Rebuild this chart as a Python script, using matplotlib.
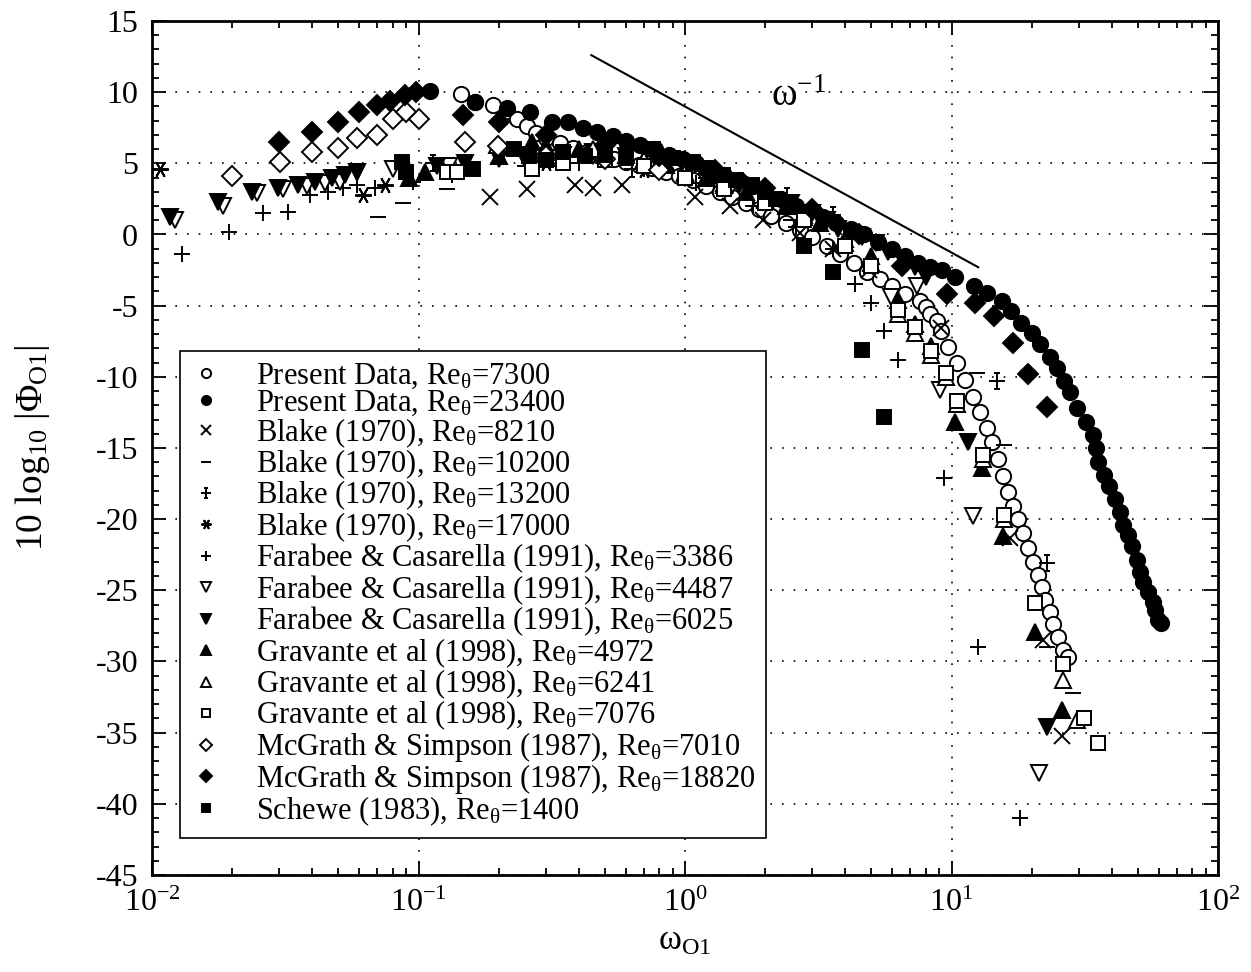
import numpy as np
import matplotlib
matplotlib.use("Agg")
import matplotlib.pyplot as plt
from matplotlib.path import Path
from matplotlib.ticker import MultipleLocator, LogLocator, NullFormatter

plt.rcParams['font.family'] = 'Liberation Serif'
plt.rcParams['mathtext.fontset'] = 'custom'
plt.rcParams['mathtext.rm'] = 'Liberation Serif'
plt.rcParams['mathtext.it'] = 'Liberation Serif:italic'
plt.rcParams['mathtext.bf'] = 'Liberation Serif:bold'
plt.rcParams['axes.unicode_minus'] = False

# ---- data ----
# Present Data, Re=7300 (open circles)
pd7300_x = [0.144, 0.163, 0.19, 0.215, 0.235, 0.255, 0.275, 0.30, 0.34, 0.38, 0.43, 0.48,
            0.54, 0.60, 0.67, 0.75, 0.85, 0.95, 1.07, 1.2, 1.35, 1.5, 1.7, 1.9, 2.1, 2.4,
            2.7, 3.0, 3.4, 3.8, 4.3, 4.8, 5.4, 6.0, 6.7, 7.6, 8.0, 8.3, 8.8, 9.1, 9.7,
            10.5, 11.2, 12.0, 12.8, 13.6, 14.2, 14.9, 15.6, 16.3, 17.0, 17.8, 18.5, 19.4,
            20.2, 21.1, 21.9, 22.5, 23.4, 24.0, 25.1, 26.2, 27.4]
pd7300_y = [9.9, 9.3, 9.1, 8.7, 8.1, 7.6, 7.1, 6.8, 6.4, 6.1, 5.8, 5.5,
            5.3, 5.1, 4.9, 4.7, 4.4, 4.1, 3.8, 3.4, 3.0, 2.6, 2.2, 1.8, 1.3, 0.8,
            0.3, -0.2, -0.8, -1.4, -2.0, -2.6, -3.1, -3.6, -4.2, -4.7, -5.1, -5.6, -6.1, -6.8, -7.9,
            -9.0, -10.2, -11.4, -12.5, -13.6, -14.6, -15.8, -17.0, -18.1, -19.1, -20.0, -21.0, -22.0,
            -23.0, -23.9, -24.8, -25.7, -26.5, -27.4, -28.3, -29.2, -29.7]

# Present Data, Re=23400 (filled circles)
pd23400_x = [0.110, 0.163, 0.215, 0.262, 0.317, 0.364, 0.415, 0.469, 0.535, 0.60, 0.68, 0.77,
             0.87, 0.98, 1.1, 1.25, 1.4, 1.6, 1.8, 2.0, 2.3, 2.6, 2.9, 3.3, 3.7, 4.2, 4.7,
             5.3, 6.0, 6.7, 7.5, 8.3, 9.2, 10.3, 12.1, 13.6, 15.5, 16.7, 18.3, 20.0, 21.4,
             23.4, 24.8, 26.5, 27.8, 29.6, 31.9, 34.1, 35.0, 35.6, 37.2, 39.0, 40.9, 42.7,
             43.9, 45.8, 47.5, 49.6, 51.0, 52.5, 54.5, 56.9, 58.0, 59.8, 61.0]
pd23400_y = [10.1, 9.3, 8.9, 8.6, 7.9, 7.9, 7.5, 7.2, 6.9, 6.6, 6.3, 6.0,
             5.6, 5.3, 5.0, 4.6, 4.2, 3.8, 3.4, 3.0, 2.5, 2.0, 1.6, 1.2, 0.8, 0.4, 0.0,
             -0.5, -1.0, -1.5, -2.0, -2.3, -2.5, -3.0, -3.6, -4.1, -4.7, -5.4, -6.2, -6.9, -7.7,
             -8.6, -9.4, -10.3, -11.1, -12.2, -13.2, -14.1, -15.0, -16.0, -16.9, -17.7, -18.6, -19.5,
             -20.4, -21.1, -21.9, -22.9, -23.7, -24.4, -25.1, -25.8, -26.4, -27.1, -27.3]

# Blake (1970)
b8210_x = [0.185, 0.256, 0.386, 0.45, 0.58, 1.09, 1.47, 1.96, 2.7, 3.6, 4.9, 9.1, 16.6, 22.0, 26.0]
b8210_y = [2.6, 3.2, 3.5, 3.3, 3.5, 2.6, 2.0, 1.05, 0.1, -1.0, -2.5, -6.6, -21.3, -28.5, -35.2]

b10200_x = [0.0705, 0.0874, 0.128, 0.3, 0.6, 1.2, 2.5, 5.0, 12.5, 15.8, 22.8, 28.6]
b10200_y = [1.2, 2.2, 3.2, 5.0, 5.3, 3.5, 1.0, -2.5, -9.7, -14.8, -29.0, -32.2]

b13200_x = [0.113, 0.317, 0.63, 1.2, 2.41, 3.6, 14.8, 22.8]
b13200_y = [5.0, 5.4, 4.6, 4.0, 2.7, 1.4, -10.3, -23.1]

b17000_x = [0.0107, 0.062, 0.075, 0.3, 0.7]
b17000_y = [4.6, 2.8, 3.5, 5.0, 4.5]

# Farabee & Casarella (1991)
f3386_x = [0.0130, 0.0195, 0.026, 0.0324, 0.039, 0.0457, 0.052, 0.059, 0.0687, 0.095, 0.134,
           0.25, 0.4, 0.7, 1.1, 1.8, 2.6, 3.6, 4.35, 4.99, 5.6, 6.3, 9.4, 12.6, 18.0]
f3386_y = [-1.4, 0.2, 1.5, 1.6, 2.8, 3.0, 3.3, 3.5, 3.3, 3.7, 4.2,
           4.8, 5.0, 4.6, 3.6, 2.0, 0.5, -1.0, -3.5, -4.8, -6.8, -8.8, -17.1, -29.0, -41.0]

f4487_x = [0.0122, 0.0185, 0.0247, 0.031, 0.038, 0.0446, 0.0506, 0.0588, 0.08, 0.13, 0.25,
           0.45, 0.8, 1.5, 3.0, 5.95, 7.4, 9.05, 12.0, 21.3]
f4487_y = [1.05, 2.0, 2.95, 3.2, 3.4, 3.6, 3.7, 4.4, 4.6, 4.8, 5.3,
           5.5, 4.8, 3.4, 1.5, -4.4, -3.6, -10.9, -19.8, -37.8]

f6025_x = [0.0117, 0.0177, 0.0237, 0.0297, 0.0353, 0.041, 0.0473, 0.053, 0.059, 0.117, 0.15,
           0.2, 0.25, 0.35, 0.45, 0.6, 0.8, 1.0, 1.3, 1.6, 2.0, 2.5, 3.0, 3.4, 3.75, 4.2, 4.6,
           5.2, 5.8, 6.5, 7.3, 8.0, 11.5, 22.8]
f6025_y = [1.2, 2.25, 3.0, 3.3, 3.5, 3.7, 4.0, 4.2, 4.4, 4.8, 5.0,
           5.3, 5.6, 5.6, 5.8, 5.5, 5.2, 4.6, 4.1, 3.5, 2.7, 2.2, 1.5, 1.0, 0.4, 0.0, -0.2,
           -0.6, -1.2, -1.7, -2.3, -3.0, -14.6, -34.6]

# Gravante et al (1998)
g4972_x = [0.092, 0.106, 0.2, 0.267, 0.3, 0.4, 0.5, 0.6, 0.7, 0.85, 1.0, 1.2, 1.4, 1.7, 2.0,
           2.4, 2.8, 3.2, 4.0, 5.0, 6.3, 7.3, 8.4, 10.3, 13.0, 15.6, 20.6, 26.0]
g4972_y = [4.0, 4.4, 5.5, 6.5, 6.2, 6.0, 5.8, 5.6, 5.3, 4.9, 4.4, 4.0, 3.6, 3.0, 2.5,
           2.0, 1.4, 0.8, -0.3, -1.5, -4.6, -6.3, -7.8, -13.2, -16.4, -21.2, -27.9, -33.4]

g6241_x = [0.197, 0.3, 0.45, 0.7, 1.0, 1.4, 2.0, 2.8, 4.0, 5.0, 6.3, 7.3, 8.4, 9.5, 10.5,
           13.1, 15.8, 26.2, 29.6]
g6241_y = [6.3, 5.8, 6.0, 5.2, 4.3, 3.5, 2.4, 1.2, -0.6, -2.0, -5.6, -6.9, -8.5, -10.0, -11.9,
           -15.8, -20.0, -31.3, -34.1]

g7076_x = [0.128, 0.139, 0.267, 0.35, 0.5, 0.7, 1.0, 1.4, 2.0, 2.8, 4.0, 5.0, 6.3, 7.3, 8.4,
           9.5, 10.5, 13.1, 15.8, 20.6, 26.2, 31.5, 35.5]
g7076_y = [4.4, 4.4, 4.6, 5.0, 5.2, 4.8, 4.0, 3.2, 2.2, 1.0, -0.8, -2.2, -5.3, -6.5, -8.2,
           -9.7, -11.7, -15.5, -19.7, -25.9, -30.2, -34.0, -35.7]

# McGrath & Simpson (1987)
m7010_x = [0.0199, 0.0302, 0.040, 0.050, 0.059, 0.070, 0.080, 0.090, 0.100, 0.150, 0.199, 0.3, 0.5, 0.8]
m7010_y = [4.1, 5.1, 5.8, 6.1, 6.8, 7.0, 8.1, 8.6, 8.1, 6.5, 6.2, 5.5, 5.3, 4.5]

m18820_x = [0.030, 0.040, 0.050, 0.060, 0.070, 0.078, 0.089, 0.098, 0.147, 0.200, 0.3, 0.5,
            0.8, 1.3, 2.0, 3.0, 4.5, 6.5, 9.6, 12.3, 14.4, 17.0, 19.4, 22.9]
m18820_y = [6.5, 7.2, 7.9, 8.6, 9.1, 9.4, 9.8, 10.0, 8.4, 7.9, 7.0, 6.3,
            5.5, 4.5, 3.3, 1.8, 0.0, -2.2, -4.2, -4.8, -5.7, -7.6, -9.8, -12.1]

# Schewe (1983)
s1400_x = [0.087, 0.090, 0.16, 0.228, 0.26, 0.3, 0.35, 0.42, 0.5, 0.6, 0.76, 0.9, 1.07, 1.2,
           1.39, 1.55, 1.79, 2.0, 2.2, 2.8, 3.6, 4.6, 5.6]
s1400_y = [5.1, 4.4, 4.6, 6.0, 5.5, 5.2, 5.8, 5.5, 5.6, 5.4, 6.0, 5.4, 5.1, 4.7,
           4.2, 3.8, 3.5, 3.0, 2.5, -0.8, -2.6, -8.1, -12.8]

# omega^-1 reference line
slope_x = [0.445, 12.6]
slope_y = [12.6, -2.3]

# ---- markers ----
dagger = Path([(-1, 0), (1, 0), (0, -1), (0, 1), (-0.4, 1), (0.4, 1), (-0.4, -1), (0.4, -1)],
              [Path.MOVETO, Path.LINETO] * 4)

re = r'Re$_{\mathrm{\theta}}$='
series = [
    (pd7300_x, pd7300_y, 'o', 'white', 11, 'Present Data, ' + re + '7300'),
    (pd23400_x, pd23400_y, 'o', 'black', 11, 'Present Data, ' + re + '23400'),
    (b8210_x, b8210_y, 'x', 'none', 11, 'Blake (1970), ' + re + '8210'),
    (b10200_x, b10200_y, '_', 'none', 12, 'Blake (1970), ' + re + '10200'),
    (b13200_x, b13200_y, dagger, 'none', 12, 'Blake (1970), ' + re + '13200'),
    (b17000_x, b17000_y, (6, 2, 90), 'none', 12, 'Blake (1970), ' + re + '17000'),
    (f3386_x, f3386_y, '+', 'none', 12, 'Farabee & Casarella (1991), ' + re + '3386'),
    (f4487_x, f4487_y, 'v', 'white', 11, 'Farabee & Casarella (1991), ' + re + '4487'),
    (f6025_x, f6025_y, 'v', 'black', 11, 'Farabee & Casarella (1991), ' + re + '6025'),
    (g4972_x, g4972_y, '^', 'black', 11, 'Gravante et al (1998), ' + re + '4972'),
    (g6241_x, g6241_y, '^', 'white', 11, 'Gravante et al (1998), ' + re + '6241'),
    (g7076_x, g7076_y, 's', 'white', 10, 'Gravante et al (1998), ' + re + '7076'),
    (m7010_x, m7010_y, 'D', 'white', 10, 'McGrath & Simpson (1987), ' + re + '7010'),
    (m18820_x, m18820_y, 'D', 'black', 10, 'McGrath & Simpson (1987), ' + re + '18820'),
    (s1400_x, s1400_y, 's', 'black', 10, 'Schewe (1983), ' + re + '1400'),
]

fig = plt.figure(figsize=(12.51, 9.72), dpi=100)
ax = fig.add_axes([152 / 1251, 1 - 875 / 972, 1066 / 1251, 854 / 972])

for x, y, m, fc, ms, lab in series:
    ax.plot(x, y, linestyle='none', marker=m, mfc=fc, mec='black', ms=ms, mew=1.4,
            color='black', label=lab)

ax.plot(slope_x, slope_y, color='black', lw=1.5)
ax.text(2.1, 9.7, r'ω$^{\mathrm{-1}}$', fontsize=28, ha='left', va='center')

ax.set_xscale('log')
ax.set_xlim(1e-2, 1e2)
ax.set_ylim(-45, 15)
ax.yaxis.set_major_locator(MultipleLocator(5))
ax.yaxis.set_minor_locator(MultipleLocator(1))
ax.xaxis.set_minor_locator(LogLocator(base=10, subs=np.arange(2, 10)))
ax.xaxis.set_minor_formatter(NullFormatter())
ax.tick_params(which='both', direction='in', top=True, right=True, labelsize=23, width=1.3)
ax.tick_params(which='major', length=10, pad=10)
ax.tick_params(which='minor', length=5)
for sp in ax.spines.values():
    sp.set_linewidth(2)
ax.grid(True, which='major', color='black', linestyle=(0, (1, 6)), linewidth=1.2)

ax.set_ylabel(r'10 log$_{10}$ |$\mathrm{\Phi}_{\mathrm{O1}}$|', fontsize=27)
ax.yaxis.set_label_coords(-0.094, 0.5)
ax.set_xlabel(r'ω$_{\mathrm{O1}}$', fontsize=25)
ax.xaxis.set_label_coords(0.5, -0.058)

leg = ax.legend(loc='lower left', bbox_to_anchor=(0.026, 0.043), borderaxespad=0,
                fontsize=22, markerscale=0.6, handlelength=1.0, handletextpad=1.15,
                labelspacing=-0.07, borderpad=0.35, fancybox=False, framealpha=1,
                edgecolor='black')
leg.get_frame().set_linewidth(1.2)

fig.savefig('out.png', dpi=100)
